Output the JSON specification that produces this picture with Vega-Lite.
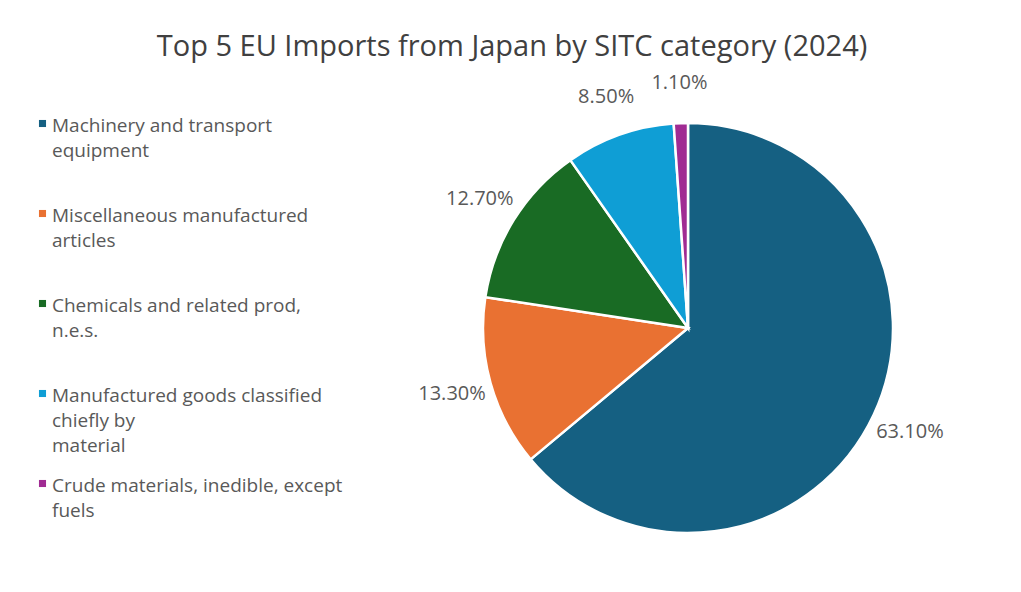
{
  "$schema": "https://vega.github.io/schema/vega-lite/v6.json",
  "autosize": "none",
  "width": 416,
  "height": 416,
  "padding": {"left": 480, "top": 120, "right": 125, "bottom": 56},
  "background": "white",
  "title": {
    "text": "Top 5 EU Imports from Japan by SITC category (2024)",
    "font": "Open Sans",
    "fontSize": 29,
    "fontWeight": "normal",
    "color": "#404040",
    "anchor": "middle",
    "dx": -176,
    "offset": 11
  },
  "data": {
    "values": [
      {"category": "Machinery and transport equipment", "share": 0.631, "rank": 1},
      {"category": "Miscellaneous manufactured articles", "share": 0.133, "rank": 2},
      {"category": "Chemicals and related prod, n.e.s.", "share": 0.127, "rank": 3},
      {"category": "Manufactured goods classified chiefly by material", "share": 0.085, "rank": 4},
      {"category": "Crude materials, inedible, except fuels", "share": 0.011, "rank": 5}
    ]
  },
  "encoding": {
    "theta": {"field": "share", "type": "quantitative", "stack": true},
    "order": {"field": "rank", "type": "quantitative"},
    "color": {
      "field": "category",
      "type": "nominal",
      "scale": {
        "domain": [
          "Machinery and transport equipment",
          "Miscellaneous manufactured articles",
          "Chemicals and related prod, n.e.s.",
          "Manufactured goods classified chiefly by material",
          "Crude materials, inedible, except fuels"
        ],
        "range": ["#156082", "#E97132", "#196B24", "#0F9ED5", "#A02B93"]
      },
      "legend": {
        "title": null,
        "orient": "none",
        "legendX": -447,
        "legendY": -6,
        "symbolType": "square",
        "symbolSize": 50,
        "symbolStrokeWidth": 0,
        "labelFont": "Open Sans",
        "labelFontSize": 19,
        "labelColor": "#595959",
        "labelLimit": 400,
        "labelOffset": 0,
        "labelBaseline": "top",
        "rowPadding": 18,
        "gridAlign": "all",
        "labelExpr": "datum.label == 'Machinery and transport equipment' ? ['Machinery and transport', 'equipment'] : datum.label == 'Miscellaneous manufactured articles' ? ['Miscellaneous manufactured', 'articles'] : datum.label == 'Chemicals and related prod, n.e.s.' ? ['Chemicals and related prod,', 'n.e.s.'] : datum.label == 'Manufactured goods classified chiefly by material' ? ['Manufactured goods classified', 'chiefly by', 'material'] : ['Crude materials, inedible, except', 'fuels']"
      }
    }
  },
  "layer": [
    {
      "mark": {"type": "arc", "outerRadius": 205, "stroke": "white", "strokeWidth": 2.5}
    },
    {
      "mark": {"type": "text", "radius": 245, "font": "Open Sans", "fontSize": 20, "fill": "#595959", "align": "center", "baseline": "middle"},
      "encoding": {
        "text": {"field": "share", "type": "quantitative", "format": ".2%"},
        "color": {"value": "#595959"}
      }
    }
  ],
  "config": {
    "view": {"stroke": null},
    "style": {"guide-label": {"lineHeight": 25, "dy": -7}}
  }
}
